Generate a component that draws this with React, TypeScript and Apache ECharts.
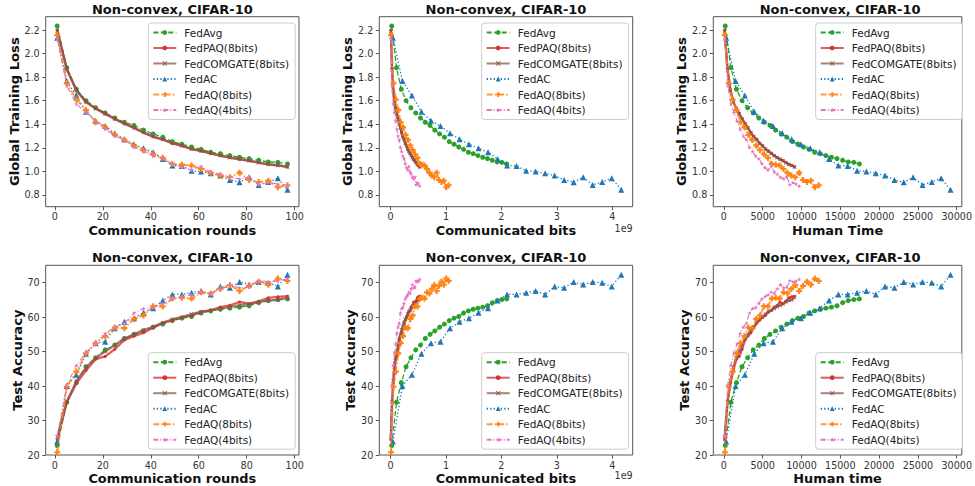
import React, { useEffect, useRef } from 'react';
import * as echarts from 'echarts';

// ---------------- data ----------------
const rounds = [1, 5, 9, 13, 17, 21, 25, 29, 33, 37, 41, 45, 49, 53, 57, 61, 65, 69, 73, 77, 81, 85, 89, 93, 97];

const seriesNames = ['FedAvg', 'FedPAQ(8bits)', 'FedCOMGATE(8bits)', 'FedAC', 'FedAQ(8bits)', 'FedAQ(4bits)'];

const lossFedAvg = [2.234, 1.88, 1.697, 1.6, 1.54, 1.496, 1.453, 1.417, 1.39, 1.35, 1.318, 1.29, 1.253, 1.23, 1.207, 1.187, 1.162, 1.15, 1.134, 1.12, 1.108, 1.094, 1.08, 1.077, 1.063];
const lossFedPAQ = [2.2, 1.87, 1.69, 1.59, 1.535, 1.49, 1.447, 1.405, 1.37, 1.33, 1.295, 1.272, 1.239, 1.218, 1.19, 1.173, 1.153, 1.134, 1.117, 1.103, 1.091, 1.075, 1.06, 1.052, 1.038];
const lossFedCOMGATE = [2.19, 1.862, 1.685, 1.588, 1.533, 1.488, 1.445, 1.404, 1.368, 1.329, 1.294, 1.27, 1.237, 1.216, 1.189, 1.171, 1.152, 1.133, 1.116, 1.102, 1.09, 1.074, 1.059, 1.05, 1.036];
const lossFedAC = [2.135, 1.767, 1.643, 1.507, 1.43, 1.385, 1.323, 1.272, 1.23, 1.196, 1.162, 1.105, 1.05, 1.046, 1.006, 0.998, 0.984, 0.964, 0.927, 0.908, 0.95, 0.885, 0.91, 0.942, 0.843];
const lossFedAQ8 = [2.157, 1.747, 1.61, 1.52, 1.417, 1.374, 1.31, 1.267, 1.22, 1.18, 1.145, 1.115, 1.063, 1.057, 1.049, 1.02, 0.987, 0.964, 0.95, 0.989, 0.927, 0.91, 0.921, 0.865, 0.882];
const lossFedAQ4 = [2.125, 1.725, 1.572, 1.5, 1.43, 1.36, 1.3, 1.267, 1.204, 1.168, 1.131, 1.108, 1.066, 1.032, 1.012, 1.043, 0.995, 0.978, 0.95, 0.936, 0.953, 0.888, 0.905, 0.893, 0.876];

const accFedAvg = [22.7, 35.3, 41.0, 45.6, 48.2, 50.5, 51.9, 53.8, 55.0, 56.0, 57.1, 58.0, 59.0, 59.7, 60.2, 61.2, 61.8, 62.3, 62.6, 62.9, 63.3, 64.2, 64.8, 65.1, 65.3];
const accFedPAQ = [24.4, 35.3, 40.8, 44.5, 47.8, 48.6, 50.7, 53.4, 54.5, 55.5, 56.9, 58.3, 59.1, 60.0, 60.5, 61.5, 62.0, 62.9, 63.4, 64.4, 63.9, 64.6, 65.6, 65.9, 66.1];
const accFedCOMGATE = [25.3, 35.5, 41.5, 45.4, 48.2, 50.0, 51.9, 53.8, 55.0, 56.3, 57.2, 58.4, 59.4, 60.0, 60.9, 61.6, 62.0, 62.5, 63.0, 63.4, 63.8, 64.4, 64.8, 65.0, 65.7];
const accFedAC = [23.9, 40.0, 43.3, 49.4, 52.4, 52.9, 56.8, 58.7, 59.7, 61.3, 62.6, 64.8, 66.6, 66.6, 67.1, 67.6, 66.6, 68.9, 68.5, 70.2, 69.5, 70.2, 70.0, 68.9, 72.3];
const accFedAQ8 = [20.8, 39.8, 44.2, 49.5, 52.5, 54.5, 57.0, 56.8, 59.5, 60.5, 63.2, 63.1, 65.4, 65.6, 65.4, 67.2, 66.9, 68.2, 69.3, 67.6, 69.1, 70.3, 69.4, 71.2, 70.5];
const accFedAQ4 = [25.5, 40.3, 46.0, 49.8, 52.2, 55.3, 57.1, 58.2, 61.2, 62.5, 62.8, 64.0, 65.3, 66.0, 66.5, 67.3, 66.9, 68.3, 69.5, 68.5, 68.7, 70.6, 70.3, 70.5, 71.0];

// communication cost per round (in units of 1e9 bits) and wall time per round
const bitsPerRound = [0.0216, 0.00542, 0.00542, 0.0429, 0.0108, 0.00542];
const timePerRound = [180, 94, 94, 301, 126, 100];

const lossTicks = [0.8, 1.0, 1.2, 1.4, 1.6, 1.8, 2.0, 2.2];
const accTicks = [20, 30, 40, 50, 60, 70];
const roundTicks = [0, 20, 40, 60, 80, 100];
const bitsTicks = [0, 1, 2, 3, 4];
const timeTicks = [0, 5000, 10000, 15000, 20000, 25000, 30000];

// ---------------- styles ----------------
const FONT = '"DejaVu Sans", sans-serif';
const X_PATH = 'path://M0,1.5L1.5,0L5,3.5L8.5,0L10,1.5L6.5,5L10,8.5L8.5,10L5,6.5L1.5,10L0,8.5L3.5,5Z';
const PLUS_PATH = 'path://M3.2,0H6.8V3.2H10V6.8H6.8V10H3.2V6.8H0V3.2H3.2Z';
const STAR_PATH = 'path://M5,0L6.2,3.6L10,3.6L6.9,5.9L8.1,9.5L5,7.3L1.9,9.5L3.1,5.9L0,3.6L3.8,3.6Z';

const seriesStyles = [
  { color: '#2ca02c', width: 1.3, type: [5, 2.5] as any, opacity: 1, symbol: 'circle', size: 5 },
  { color: '#d62728', width: 2.3, type: 'solid' as any, opacity: 0.75, symbol: 'circle', size: 3 },
  { color: '#8c564b', width: 2.3, type: 'solid' as any, opacity: 0.75, symbol: X_PATH, size: 4 },
  { color: '#1f77b4', width: 1.3, type: [1.3, 2.2] as any, opacity: 1, symbol: 'triangle', size: 6 },
  { color: '#ff7f0e', width: 1.8, type: [6, 2, 1.5, 2] as any, opacity: 0.8, symbol: PLUS_PATH, size: 6 },
  { color: '#e377c2', width: 1.1, type: [5, 2, 1, 2] as any, opacity: 1, symbol: STAR_PATH, size: 4.5 },
];

const lossData = [lossFedAvg, lossFedPAQ, lossFedCOMGATE, lossFedAC, lossFedAQ8, lossFedAQ4];
const accData = [accFedAvg, accFedPAQ, accFedCOMGATE, accFedAC, accFedAQ8, accFedAQ4];

type XKind = 'rounds' | 'bits' | 'time';
type YKind = 'loss' | 'acc';

const cols = [
  { left: 45.7, width: 253.3 },
  { left: 379.3, width: 253.4 },
  { left: 713.3, width: 253.7 },
];
const rows = [
  { top: 16.7, height: 190 },
  { top: 265.3, height: 189.7 },
];

const xCfg: Record<XKind, any> = {
  rounds: { min: -3.8, max: 101.8, ticks: roundTicks, fmt: (v: number) => String(v), name: 'Communication rounds' },
  bits: { min: -0.2025, max: 4.368, ticks: bitsTicks, fmt: (v: number) => String(v), name: 'Communicated bits' },
  time: { min: -1361, max: 30652, ticks: timeTicks, fmt: (v: number) => String(v), name: 'Human Time' },
};
const yCfg: Record<YKind, any> = {
  loss: { min: 0.7, max: 2.313, ticks: lossTicks, fmt: (v: number) => v.toFixed(1), name: 'Global Training Loss', gap: 24 },
  acc: { min: 20, max: 75.05, ticks: accTicks, fmt: (v: number) => String(v), name: 'Test Accuracy', gap: 20 },
};

const panels: { row: number; col: number; x: XKind; y: YKind; xName?: string }[] = [
  { row: 0, col: 0, x: 'rounds', y: 'loss' },
  { row: 0, col: 1, x: 'bits', y: 'loss' },
  { row: 0, col: 2, x: 'time', y: 'loss' },
  { row: 1, col: 0, x: 'rounds', y: 'acc' },
  { row: 1, col: 1, x: 'bits', y: 'acc' },
  { row: 1, col: 2, x: 'time', y: 'acc', xName: 'Human time' },
];

function xValue(kind: XKind, round: number, s: number) {
  if (kind === 'rounds') return round;
  if (kind === 'bits') return round * bitsPerRound[s];
  return round * timePerRound[s];
}

function buildOption() {
  const grids: any[] = [];
  const xAxes: any[] = [];
  const yAxes: any[] = [];
  const legends: any[] = [];
  const series: any[] = [];
  const graphics: any[] = [];

  panels.forEach((p, i) => {
    const c = cols[p.col];
    const r = rows[p.row];
    grids.push({
      left: c.left, top: r.top, width: c.width, height: r.height,
      show: true, borderColor: '#555', borderWidth: 1, backgroundColor: 'transparent',
    });
    const xc = xCfg[p.x];
    const yc = yCfg[p.y];
    xAxes.push({
      type: 'value', gridIndex: i, min: xc.min, max: xc.max,
      name: p.xName || xc.name, nameLocation: 'middle', nameGap: 17,
      nameTextStyle: { fontFamily: FONT, fontWeight: 'bold', fontSize: 12.9, color: '#111' },
      axisLine: { show: false, onZero: false },
      axisTick: { show: true, length: 3.5, customValues: xc.ticks, lineStyle: { color: '#555', width: 1 } },
      axisLabel: { customValues: xc.ticks, formatter: xc.fmt, margin: 5, fontFamily: FONT, fontSize: 9.6, color: '#333' },
      splitLine: { show: false },
    });
    yAxes.push({
      type: 'value', gridIndex: i, min: yc.min, max: yc.max,
      name: yc.name, nameLocation: 'middle', nameGap: yc.gap,
      nameTextStyle: { fontFamily: FONT, fontWeight: 'bold', fontSize: 13.1, color: '#111' },
      axisLine: { show: false, onZero: false },
      axisTick: { show: true, length: 3.5, customValues: yc.ticks, lineStyle: { color: '#555', width: 1 } },
      axisLabel: { customValues: yc.ticks, formatter: yc.fmt, margin: 6, fontFamily: FONT, fontSize: 9.6, color: '#333' },
      splitLine: { show: false },
    });

    const legTop = p.row === 0 ? 23 : 352.7;
    const legLeft = [148.3, 481.7, 815.7][p.col];
    legends.push({
      data: seriesNames, orient: 'vertical', left: legLeft, top: legTop,
      itemWidth: 23, itemHeight: 6, itemGap: 1.5, selectedMode: false,
      backgroundColor: 'rgba(255,255,255,0.85)', borderColor: '#cccccc', borderWidth: 1, borderRadius: 3,
      padding: [2.5, 6, 2.5, 4],
      textStyle: { fontFamily: FONT, fontSize: 10.5, color: '#222', lineHeight: 14, padding: [0, 0, 0, 3] },
    });

    graphics.push({
      type: 'text', x: c.left + c.width / 2, y: p.row === 0 ? 9 : 257, silent: true,
      style: { text: 'Non-convex, CIFAR-10', align: 'center', verticalAlign: 'middle', fontFamily: FONT, fontWeight: 'bold', fontSize: 13, fill: '#111' },
    });
    if (p.x === 'bits') {
      graphics.push({
        type: 'text', x: c.left + c.width, y: p.row === 0 ? 228.3 : 475.5, silent: true,
        style: { text: '1e9', align: 'right', verticalAlign: 'middle', fontFamily: FONT, fontSize: 9.6, fill: '#333' },
      });
    }

    const yArrs = p.y === 'loss' ? lossData : accData;
    seriesNames.forEach((name, s) => {
      const st = seriesStyles[s];
      series.push({
        type: 'line', name, xAxisIndex: i, yAxisIndex: i,
        data: rounds.map((rd, k) => [xValue(p.x, rd, s), yArrs[s][k]]),
        symbol: st.symbol, symbolSize: st.size, showSymbol: true,
        lineStyle: { color: st.color, width: st.width, type: st.type, opacity: st.opacity },
        itemStyle: { color: st.color, opacity: Math.min(1, st.opacity + 0.15) },
        emphasis: { disabled: true }, silent: true, z: 2 + s * 0.01,
      });
    });
  });

  return {
    animation: false,
    backgroundColor: '#ffffff',
    textStyle: { fontFamily: FONT },
    grid: grids, xAxis: xAxes, yAxis: yAxes, legend: legends, series, graphic: graphics,
  };
}

export default function App() {
  const ref = useRef<HTMLDivElement>(null);
  useEffect(() => {
    if (!ref.current) return;
    const chart = echarts.init(ref.current, null, { renderer: 'svg' });
    chart.setOption(buildOption() as any);
    return () => chart.dispose();
  }, []);
  return <div ref={ref} style={{ position: 'absolute', left: 0, top: 0, width: 975, height: 486, background: '#fff' }} />;
}
